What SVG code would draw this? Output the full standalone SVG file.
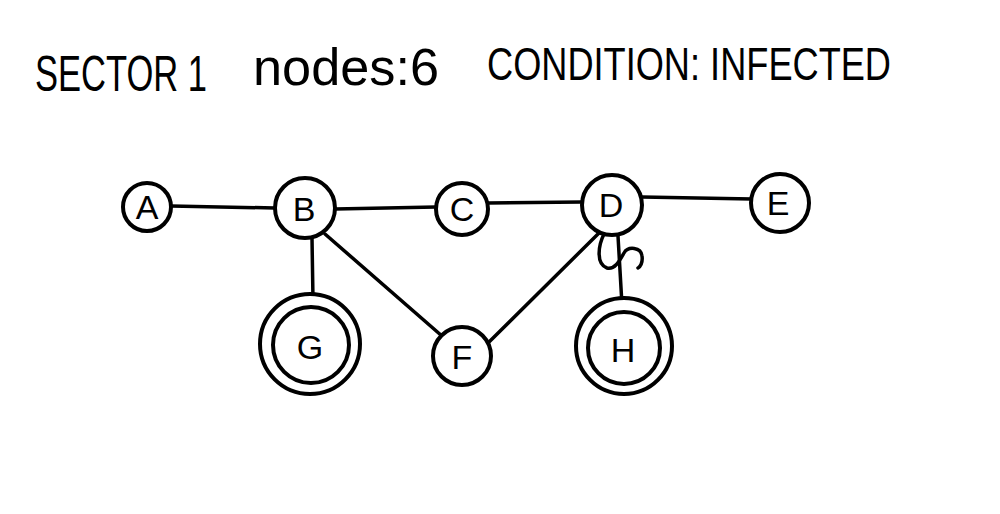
<svg xmlns="http://www.w3.org/2000/svg" width="1000" height="514" viewBox="0 0 1000 514">
<style>
.n{fill:#fff;stroke:#000;stroke-width:4}
.e{fill:none;stroke:#000;stroke-width:3.5;stroke-linecap:round}
.l{font-family:"Liberation Sans",Arial,sans-serif;font-size:34px;fill:#000;text-anchor:middle}
.t{font-family:"Liberation Sans",Arial,sans-serif;fill:#000}
</style>
<rect width="1000" height="514" fill="#fff"/>
<g id="title">
<text class="t" transform="translate(35 91) scale(1 1.45)" font-size="34" textLength="172" lengthAdjust="spacingAndGlyphs">SECTOR 1</text>
<text class="t" x="253" y="85" font-size="52" textLength="186" lengthAdjust="spacingAndGlyphs">nodes:6</text>
<text class="t" transform="translate(487 80) scale(1 1.28)" font-size="36" textLength="404" lengthAdjust="spacingAndGlyphs">CONDITION: INFECTED</text>
</g>
<g id="connectors">
<path class="e" d="M171 206 L275 208"/>
<path class="e" d="M335 209 L436 207"/>
<path class="e" d="M488 203 L582 202"/>
<path class="e" d="M642 197 L752 199"/>
<path class="e" d="M312 238 L313 300"/>
<path class="e" d="M325 234 L442 336"/>
<path class="e" d="M487 344 L600 232"/>
<path class="e" d="M618 236 L622 305"/>
<path class="e" d="M604 234 C598 246 596 264 607 268 C615 270 620 260 624 253 C628 246 641 247 642 256 C643 263 640 267 638 268"/>
</g>
<g id="node-A"><circle class="n" cx="147" cy="207" r="24"/><text class="l" x="147" y="219">A</text></g>
<g id="node-B"><circle class="n" cx="305" cy="208" r="30"/><text class="l" x="304" y="221">B</text></g>
<g id="node-C"><circle class="n" cx="462" cy="209" r="26"/><text class="l" x="462" y="221">C</text></g>
<g id="node-D"><circle class="n" cx="612" cy="205" r="30"/><text class="l" x="611" y="217">D</text></g>
<g id="node-E"><circle class="n" cx="780" cy="203" r="29"/><text class="l" x="778" y="215">E</text></g>
<g id="node-G"><circle class="n" cx="310" cy="344" r="50"/><circle class="n" cx="311" cy="345" r="38"/><text class="l" x="310" y="359">G</text></g>
<g id="node-F"><circle class="n" cx="462" cy="356" r="29"/><text class="l" x="462" y="369">F</text></g>
<g id="node-H"><circle class="n" cx="624" cy="346" r="48"/><circle class="n" cx="624" cy="348" r="36"/><text class="l" x="623" y="362">H</text></g>
</svg>
